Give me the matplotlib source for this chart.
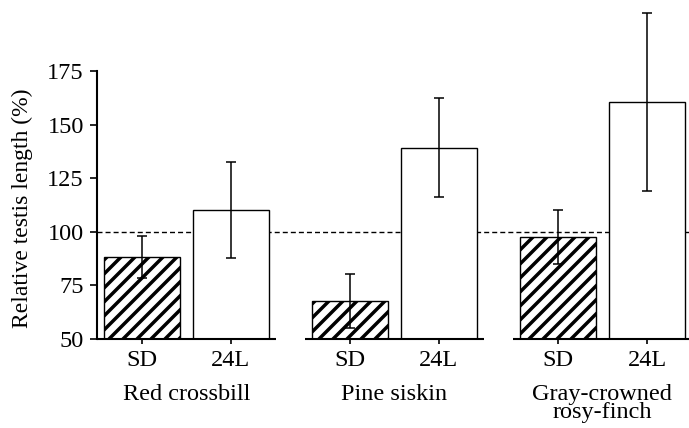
import numpy as np
import matplotlib
matplotlib.use('Agg')
import matplotlib.pyplot as plt
from matplotlib.transforms import blended_transform_factory

# values
species = ['Red crossbill', 'Pine siskin', 'Gray-crowned\nrosy-finch']
treatments = ['SD', '24L']
sd_mean = [88.4, 67.7, 97.6]
sd_err = [9.8, 12.5, 12.5]
long_mean = [110.2, 139.2, 160.5]
long_err = [22.5, 23.0, 41.4]
y_ticks = [50, 75, 100, 125, 150, 175]

# hatch spacing is tied to dpi, so render at 126 dpi and scale point sizes
DPI = 126
k = 100 / DPI

plt.rcParams['font.family'] = ['Liberation Serif', 'DejaVu Serif']
plt.rcParams['hatch.linewidth'] = 2.5 * k

fig = plt.figure(figsize=(689 / DPI, 428 / DPI), dpi=DPI)
ax = fig.add_axes([0.1403, 0.208, 0.8597, 0.7763])

group_step = 2.33
bar_w = 0.85
centers = np.arange(len(species)) * group_step

ax.bar(centers, np.array(sd_mean) - 50, bottom=50, width=bar_w,
       color='white', edgecolor='black', linewidth=1.0 * k, hatch='///', zorder=2)
ax.bar(centers + 1, np.array(long_mean) - 50, bottom=50, width=bar_w,
       color='white', edgecolor='black', linewidth=1.0 * k, zorder=2)
ax.errorbar(centers, sd_mean, yerr=sd_err, fmt='none', ecolor='black',
            elinewidth=1.1 * k, capsize=3.6 * k, capthick=1.1 * k, zorder=3)
ax.errorbar(centers + 1, long_mean, yerr=long_err, fmt='none', ecolor='black',
            elinewidth=1.1 * k, capsize=3.6 * k, capthick=1.1 * k, zorder=3)

ax.axhline(100, color='black', linewidth=1.0 * k, linestyle=(0, (3.6, 2.2)), zorder=1)

ax.set_xlim(-0.504, 6.13)
ax.set_ylim(50, 205)

# broken x axis, one segment per species
ax.spines['bottom'].set_visible(False)
for c in centers:
    ax.plot([c - 0.5, c + 1.5], [50, 50], color='black', linewidth=1.5 * k,
            clip_on=False, solid_capstyle='butt', zorder=4)

ax.spines['top'].set_visible(False)
ax.spines['right'].set_visible(False)
ax.spines['left'].set_linewidth(1.5 * k)
ax.spines['left'].set_bounds(50, 175)
ax.set_yticks(y_ticks)
ax.tick_params(axis='y', length=4.8 * k, width=1.2 * k, labelsize=17.5 * k, pad=4.5 * k)
ax.tick_params(axis='x', length=3.5 * k, width=1.2 * k, labelsize=17.5 * k, pad=4.5 * k)

ticks = np.concatenate([[c, c + 1] for c in centers])
ax.set_xticks(ticks)
ax.set_xticklabels(treatments * len(species))

trans = blended_transform_factory(ax.transData, ax.transAxes)
for c, name in zip(centers, species):
    ax.text(c + 0.5, -0.135, name, transform=trans, ha='center', va='top',
            fontsize=17.5 * k, linespacing=0.85)

fig.text(0.033, 0.514, 'Relative testis length (%)', rotation=90,
         ha='center', va='center', fontsize=17 * k)

fig.savefig('out.png', dpi=DPI)
